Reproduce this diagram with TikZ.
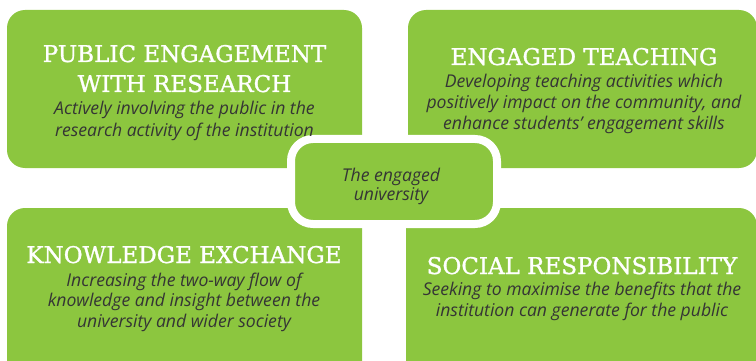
\documentclass[tikz,border=0pt]{standalone}
\usepackage{fontspec}
\newfontfamily\headfont[FakeBold=1.2]{DejaVu Serif}
\newfontfamily\bodyfont{Open Sans}
\definecolor{leaf}{HTML}{8CC63F}
\definecolor{bodytext}{HTML}{353535}
\begin{document}
\begin{tikzpicture}[x=1pt,y=-1pt,
  panel/.style={fill=leaf, rounded corners=18pt},
  hub/.style={fill=leaf, draw=white, line width=8pt, rounded corners=22pt},
  head/.style={text=white, font=\headfont\fontsize{23}{30}\selectfont, anchor=base, inner sep=0pt},
  desc/.style={text=bodytext, font=\bodyfont\itshape\fontsize{17.6}{21}\selectfont, anchor=base, inner sep=0pt}]
\useasboundingbox (0,0) rectangle (756,361);
\clip (0,0) rectangle (756,361);
% panels
\path[panel] (7,10) rectangle (362,168);
\path[panel] (408,10) rectangle (757,168);
\path[panel] (7,208) rectangle (362,380);
\path[panel] (406,208) rectangle (757,380);
\path[hub] (291,139) rectangle (497,224);
% top left
\node[head] (h1a) at (184.5,62) {PUBLIC ENGAGEMENT};
\node[head] (h1b) at (184.5,92) {WITH RESEARCH};
\node[desc] (d1a) at (184.5,115) {Actively involving the public in the};
\node[desc] (d1b) at (184.5,136) {research activity of the institution};
% top right
\node[head] (h2) at (584,65) {ENGAGED TEACHING};
\node[desc] (d2a) at (584,87.5) {Developing teaching activities which};
\node[desc] (d2b) at (584,108.5) {positively impact on the community, and};
\node[desc] (d2c) at (584,129) {enhance students’ engagement skills};
% bottom left
\node[head] (h3) at (184,263) {KNOWLEDGE EXCHANGE};
\node[desc] (d3a) at (184,286) {Increasing the two-way flow of};
\node[desc] (d3b) at (184,306.5) {knowledge and insight between the};
\node[desc] (d3c) at (184,327) {university and wider society};
% bottom right
\node[head] (h4) at (582,274) {SOCIAL RESPONSIBILITY};
\node[desc] (d4a) at (582,295.5) {Seeking to maximise the benefits that the};
\node[desc] (d4b) at (582,316.5) {institution can generate for the public};
% centre
\node[desc] (ca) at (391,182) {The engaged};
\node[desc] (cb) at (391,200) {university};
\end{tikzpicture}
\end{document}
